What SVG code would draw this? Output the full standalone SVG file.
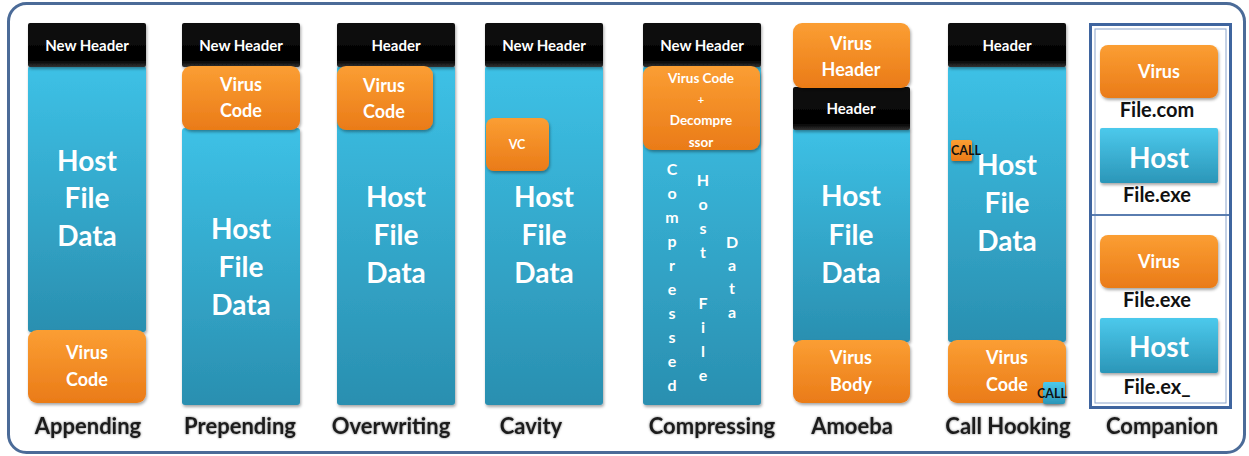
<svg xmlns="http://www.w3.org/2000/svg" width="1249" height="456" viewBox="0 0 1249 456">
<defs>
<linearGradient id="cy" x1="0" y1="0" x2="0" y2="1"><stop offset="0" stop-color="#3dc1e6"/><stop offset="1" stop-color="#2a8fb0"/></linearGradient>
<linearGradient id="cy2" x1="0" y1="0" x2="0" y2="1"><stop offset="0" stop-color="#4cc9ec"/><stop offset="1" stop-color="#2b96b8"/></linearGradient>
<linearGradient id="or" x1="0" y1="0" x2="0" y2="1"><stop offset="0" stop-color="#fb9e33"/><stop offset="1" stop-color="#ea7b18"/></linearGradient>
<linearGradient id="bk" x1="0" y1="0" x2="0" y2="1"><stop offset="0" stop-color="#111"/><stop offset="0.85" stop-color="#000"/><stop offset="1" stop-color="#333"/></linearGradient>
<filter id="sh" x="-10%" y="-10%" width="130%" height="130%"><feDropShadow dx="1" dy="2" stdDeviation="1.5" flood-color="#000" flood-opacity="0.35"/></filter>
<filter id="ts" x="-5%" y="-20%" width="110%" height="140%"><feDropShadow dx="0" dy="0" stdDeviation="0.8" flood-color="#555" flood-opacity="0.8"/></filter>
</defs>
<style>
text{font-family:Lato,"Open Sans","Liberation Sans",sans-serif;font-weight:bold;text-anchor:middle}
.hd{fill:#fff;font-size:15px}
.big{fill:#fff;font-size:28px}
.vc{fill:#fff;font-size:18px}
.vt{fill:#fff;font-size:16px}
.lbl{fill:#1e1e1e;font-size:22px}
.fn{fill:#111;font-size:20px}
.call{fill:#111;font-size:12.5px;text-anchor:start}
.cyan{fill:url(#cy)}
.cyan2{fill:url(#cy2)}
.orng{fill:url(#or)}
.blk{fill:url(#bk)}
.box{filter:url(#sh)}
</style>
<rect x="8.5" y="3.5" width="1236" height="449" rx="18" fill="#fff" stroke="#4b6b98" stroke-width="3"/>

<g id="appending">
<rect class="cyan box" x="28" y="66" width="118" height="266" rx="3"/>
<rect class="blk box" x="28" y="23" width="118" height="44" rx="2"/>
<text class="hd" x="87" y="51">New Header</text>
<text class="big" x="87" y="171">Host</text><text class="big" x="87" y="208">File</text><text class="big" x="87" y="246">Data</text>
<rect class="orng box" x="28" y="330" width="118" height="73" rx="9"/>
<text class="vc" x="87" y="359">Virus</text><text class="vc" x="87" y="386">Code</text>
<text class="lbl" x="88" y="434" filter="url(#ts)">Appending</text>
</g>

<g id="prepending">
<rect class="cyan box" x="182" y="128" width="118" height="277" rx="3"/>
<rect class="blk box" x="182" y="23" width="118" height="44" rx="2"/>
<text class="hd" x="241" y="51">New Header</text>
<rect class="orng box" x="182" y="66" width="118" height="64" rx="9"/>
<text class="vc" x="241" y="91">Virus</text><text class="vc" x="241" y="117">Code</text>
<text class="big" x="241" y="239">Host</text><text class="big" x="241" y="277">File</text><text class="big" x="241" y="315">Data</text>
<text class="lbl" x="240" y="434" filter="url(#ts)">Prepending</text>
</g>

<g id="overwriting">
<rect class="cyan box" x="337" y="66" width="118" height="339" rx="3"/>
<rect class="blk box" x="337" y="23" width="118" height="44" rx="2"/>
<text class="hd" x="396" y="51">Header</text>
<rect class="orng box" x="337" y="66" width="96" height="64" rx="9"/>
<text class="vc" x="384" y="92">Virus</text><text class="vc" x="384" y="118">Code</text>
<text class="big" x="396" y="207">Host</text><text class="big" x="396" y="245">File</text><text class="big" x="396" y="283">Data</text>
<text class="lbl" x="391" y="434" filter="url(#ts)">Overwriting</text>
</g>

<g id="cavity">
<rect class="cyan box" x="485" y="66" width="118" height="339" rx="3"/>
<rect class="blk box" x="485" y="23" width="118" height="44" rx="2"/>
<text class="hd" x="544" y="51">New Header</text>
<rect class="orng box" x="486" y="118" width="63" height="53" rx="8"/>
<text x="517" y="149" fill="#fff" font-size="12.5">VC</text>
<text class="big" x="544" y="207">Host</text><text class="big" x="544" y="245">File</text><text class="big" x="544" y="283">Data</text>
<text class="lbl" x="531" y="434" filter="url(#ts)">Cavity</text>
</g>

<g id="compressing">
<rect class="cyan box" x="643" y="66" width="118" height="339" rx="3"/>
<rect class="blk box" x="643" y="23" width="118" height="44" rx="2"/>
<text class="hd" x="702" y="51">New Header</text>
<rect class="orng box" x="643" y="66" width="117" height="84" rx="9"/>
<g fill="#fff" font-size="13.5">
<text x="701" y="83">Virus Code</text><text x="701" y="104" font-size="11">+</text><text x="701" y="125">Decompre</text><text x="701" y="147">ssor</text>
</g>
<g class="vt">
<text class="vt" x="672" y="175">C</text><text class="vt" x="672" y="199">o</text><text class="vt" x="672" y="223">m</text><text class="vt" x="672" y="247">p</text><text class="vt" x="672" y="271">r</text><text class="vt" x="672" y="295">e</text><text class="vt" x="672" y="319">s</text><text class="vt" x="672" y="343">s</text><text class="vt" x="672" y="367">e</text><text class="vt" x="672" y="391">d</text>
<text class="vt" x="703" y="186">H</text><text class="vt" x="703" y="210">o</text><text class="vt" x="703" y="234">s</text><text class="vt" x="703" y="258">t</text><text class="vt" x="703" y="309">F</text><text class="vt" x="703" y="333">i</text><text class="vt" x="703" y="357">l</text><text class="vt" x="703" y="381">e</text>
<text class="vt" x="732" y="248">D</text><text class="vt" x="732" y="271">a</text><text class="vt" x="732" y="294">t</text><text class="vt" x="732" y="318">a</text>
</g>
<text class="lbl" x="712" y="434" filter="url(#ts)">Compressing</text>
</g>

<g id="amoeba">
<rect class="cyan box" x="793" y="128" width="117" height="214" rx="3"/>
<rect class="blk box" x="793" y="87" width="117" height="43" rx="2"/>
<text class="hd" x="851" y="114">Header</text>
<rect class="orng box" x="793" y="23" width="117" height="65" rx="9"/>
<text class="vc" x="851" y="50">Virus</text><text class="vc" x="851" y="76">Header</text>
<text class="big" x="851" y="206">Host</text><text class="big" x="851" y="245">File</text><text class="big" x="851" y="283">Data</text>
<rect class="orng box" x="793" y="340" width="117" height="63" rx="9"/>
<text class="vc" x="851" y="364">Virus</text><text class="vc" x="851" y="391">Body</text>
<text class="lbl" x="852" y="434" filter="url(#ts)">Amoeba</text>
</g>

<g id="callhooking">
<rect class="cyan box" x="948" y="66" width="118" height="276" rx="3"/>
<rect class="blk box" x="948" y="23" width="118" height="44" rx="2"/>
<text class="hd" x="1007" y="51">Header</text>
<text class="big" x="1007" y="175">Host</text><text class="big" x="1007" y="213">File</text><text class="big" x="1007" y="251">Data</text>
<rect class="orng box" x="951" y="140" width="21" height="21" rx="2"/>
<text class="call" x="951" y="155">CALL</text>
<rect class="orng box" x="948" y="340" width="118" height="63" rx="9"/>
<text class="vc" x="1007" y="364">Virus</text><text class="vc" x="1007" y="391">Code</text>
<rect class="cyan2 box" x="1043" y="382" width="22" height="22" rx="2"/>
<text class="call" x="1037" y="398">CALL</text>
<text class="lbl" x="1008" y="434" filter="url(#ts)">Call Hooking</text>
</g>

<g id="companion">
<rect x="1090.5" y="24.5" width="140" height="383" fill="#fff" stroke="#3f659f" stroke-width="3"/>
<rect x="1095" y="29" width="131" height="374" fill="none" stroke="#8aa4cc" stroke-width="1"/>
<line x1="1092" y1="215" x2="1229" y2="215" stroke="#5a7db0" stroke-width="2"/>
<rect class="orng box" x="1100" y="45" width="118" height="53" rx="8"/>
<text class="vc" x="1159" y="78">Virus</text>
<text class="fn" x="1157" y="117">File.com</text>
<rect class="cyan2 box" x="1100" y="128" width="118" height="55" rx="2"/>
<text class="big" x="1159" y="168">Host</text>
<text class="fn" x="1157" y="202">File.exe</text>
<rect class="orng box" x="1100" y="235" width="118" height="53" rx="8"/>
<text class="vc" x="1159" y="268">Virus</text>
<text class="fn" x="1157" y="307">File.exe</text>
<rect class="cyan2 box" x="1100" y="318" width="118" height="55" rx="2"/>
<text class="big" x="1159" y="357">Host</text>
<text class="fn" x="1157" y="394">File.ex_</text>
<text class="lbl" x="1162" y="434" filter="url(#ts)">Companion</text>
</g>
</svg>
